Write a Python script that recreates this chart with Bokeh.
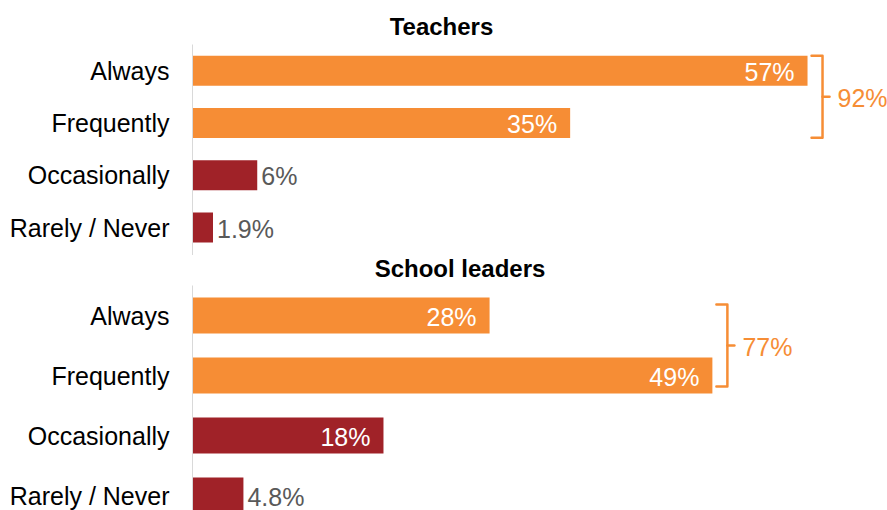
from bokeh.plotting import figure
from bokeh.models import Range1d, FixedTicker, ColumnDataSource
from bokeh.layouts import column
from bokeh.embed import file_html
from bokeh.resources import INLINE
from bokeh.core.properties import value

# ---- data ----
categories = ["Always", "Frequently", "Occasionally", "Rarely / Never"]
teachers = [57, 35, 6, 1.9]
leaders = [28, 49, 18, 4.8]
teachers_labels = ["57%", "35%", "6%", "1.9%"]
leaders_labels = ["28%", "49%", "18%", "4.8%"]
panel_titles = ["Teachers", "School leaders"]
bracket_totals = ["92%", "77%"]

# ---- style ----
ORANGE = "#F68D35"
RED = "#A02228"
GRAY_TXT = "#595959"
FONT = "Liberation Sans"
bar_colors = [ORANGE, ORANGE, RED, RED]

FIG_W = 887
LEFT = 192


def title_fig(title, height, x_scale, cx_px, cy_px):
    x_end = (FIG_W - LEFT) / x_scale
    p = figure(width=FIG_W, height=height, output_backend="svg", toolbar_location=None,
               x_range=Range1d(0, x_end), y_range=Range1d(height, 0),
               x_axis_location=None, y_axis_location=None,
               min_border_left=LEFT, min_border_right=0, min_border_top=0, min_border_bottom=0)
    p.outline_line_color = None
    p.grid.visible = False
    p.text(x=[(cx_px - LEFT) / x_scale], y=[cy_px], text=[title], text_align="center",
           text_baseline="middle", text_font=value(FONT), text_font_size="24px",
           text_font_style="bold", text_color="#000000")
    return p


def make_panel(vals, labels, total, height, row_px, x_scale, bar_h, bracket_half_px):
    frame_w = FIG_W - LEFT
    x_end = frame_w / x_scale
    y_start = height / row_px - 0.5
    p = figure(width=FIG_W, height=height, output_backend="svg", toolbar_location=None,
               x_range=Range1d(0, x_end), y_range=Range1d(y_start, -0.5),
               x_axis_location=None, min_border_left=LEFT, min_border_right=0,
               min_border_top=0, min_border_bottom=0)
    p.outline_line_color = None
    p.grid.visible = False

    idx = list(range(len(categories)))
    src = ColumnDataSource(dict(y=idx, v=vals, c=bar_colors, lab=labels))
    p.hbar(y="y", left=0, right="v", height=bar_h, fill_color="c", line_color=None, source=src)

    ax = p.yaxis[0]
    ax.ticker = FixedTicker(ticks=idx)
    ax.major_label_overrides = {i: c for i, c in zip(idx, categories)}
    ax.major_tick_line_color = None
    ax.minor_tick_line_color = None
    ax.axis_line_color = "#d9d9d9"
    ax.axis_line_width = 1
    ax.major_label_text_font = FONT
    ax.major_label_text_font_size = "25px"
    ax.major_label_text_color = "#000000"
    ax.major_label_standoff = 17

    # value labels
    inside = [v >= 10 for v in vals]
    in_src = ColumnDataSource(dict(x=[v for v, f in zip(vals, inside) if f],
                                   y=[i for i, f in zip(idx, inside) if f],
                                   t=[l for l, f in zip(labels, inside) if f]))
    out_src = ColumnDataSource(dict(x=[v for v, f in zip(vals, inside) if not f],
                                    y=[i for i, f in zip(idx, inside) if not f],
                                    t=[l for l, f in zip(labels, inside) if not f]))
    p.text(x="x", y="y", text="t", source=in_src, text_color="white", text_align="right",
           text_baseline="middle", x_offset=-13, y_offset=1, text_font=value(FONT),
           text_font_size="25px")
    p.text(x="x", y="y", text="t", source=out_src, text_color=GRAY_TXT, text_align="left",
           text_baseline="middle", x_offset=4, y_offset=1, text_font=value(FONT),
           text_font_size="25px")

    # bracket around first two bars
    xm = max(vals[0], vals[1])
    sx = xm + 4 / x_scale
    vx = xm + 15 / x_scale
    tx = xm + 22 / x_scale
    mid = (idx[0] + idx[1]) / 2
    hh = bracket_half_px / row_px
    p.multi_line(xs=[[sx, vx, vx, sx], [vx, tx]],
                 ys=[[mid - hh, mid - hh, mid + hh, mid + hh], [mid, mid]],
                 line_color=ORANGE, line_width=2.5, line_join="round", line_cap="round")
    p.text(x=[xm + 30 / x_scale], y=[mid], text=[total], text_color=ORANGE,
           text_align="left", text_baseline="middle", y_offset=1, text_font=value(FONT),
           text_font_size="25px")
    return p


t1 = title_fig(panel_titles[0], 44, 10.79, 441, 26)
p1 = make_panel(teachers, teachers_labels, bracket_totals[0],
                height=211, row_px=52.3, x_scale=10.79, bar_h=0.574, bracket_half_px=41)
t2 = title_fig(panel_titles[1], 30, 10.61, 459.5, 13)
p2 = make_panel(leaders, leaders_labels, bracket_totals[1],
                height=225, row_px=60, x_scale=10.61, bar_h=0.6, bracket_half_px=41)

layout = column(t1, p1, t2, p2, spacing=0)
open("out.html", "w").write(file_html(layout, INLINE))
